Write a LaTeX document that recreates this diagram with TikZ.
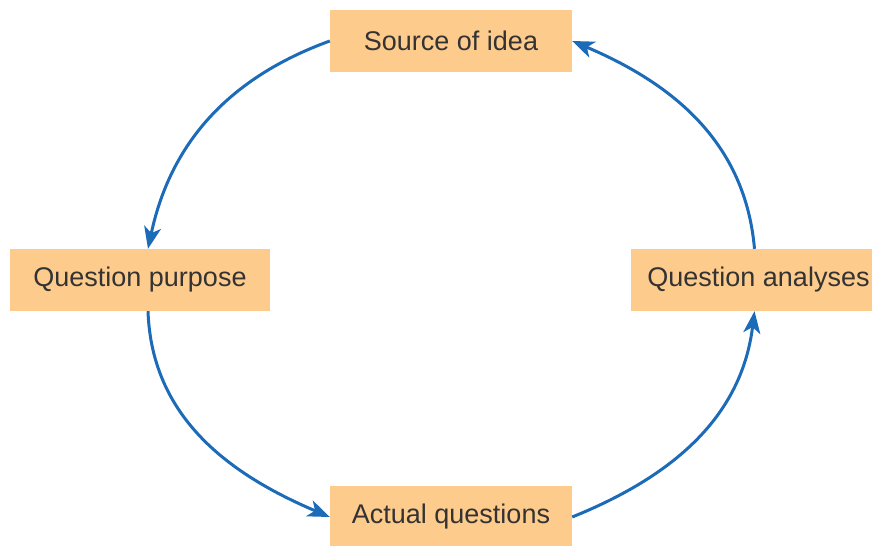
\documentclass[tikz,border=0pt]{standalone}
\usepackage{fontspec}
\setmainfont{Liberation Sans}
\usetikzlibrary{arrows.meta,calc}
\definecolor{boxfill}{HTML}{FDCB8C}
\definecolor{arrowblue}{HTML}{1B6BB8}
\definecolor{txt}{HTML}{333333}
\tikzset{
  stagebox/.style={draw=none, fill=boxfill, text=txt, inner sep=0pt,
    font=\fontsize{27}{32}\selectfont, minimum height=62pt},
  cyclearrow/.style={draw=arrowblue, line width=3pt,
    -{Stealth[length=22pt,width=17pt,inset=6pt]}}
}
\begin{document}
\begin{tikzpicture}[x=1pt,y=-1pt]
\useasboundingbox (0,0) rectangle (884,546);
\node[stagebox, minimum width=242pt] (src) at (451,41) {Source of idea};
\node[stagebox, minimum width=260pt] (purp) at (140,280) {Question purpose};
\node[stagebox, minimum width=241pt] (anal) at (751.5,280) {\hspace*{14pt}Question analyses};
\node[stagebox, minimum width=242pt] (act) at (451,517) {Actual questions};
\draw[cyclearrow] (src.west) to[out=200, in=78] ($(purp.north)+(8,0)$);
\draw[cyclearrow] ($(purp.south)+(8,0)$) to[out=-88, in=157] (act.west);
\draw[cyclearrow] (act.east) to[out=22, in=-97] ($(anal.south)+(3,0)$);
\draw[cyclearrow] ($(anal.north)+(3,0)$) to[out=95, in=-23] (src.east);
\end{tikzpicture}
\end{document}
